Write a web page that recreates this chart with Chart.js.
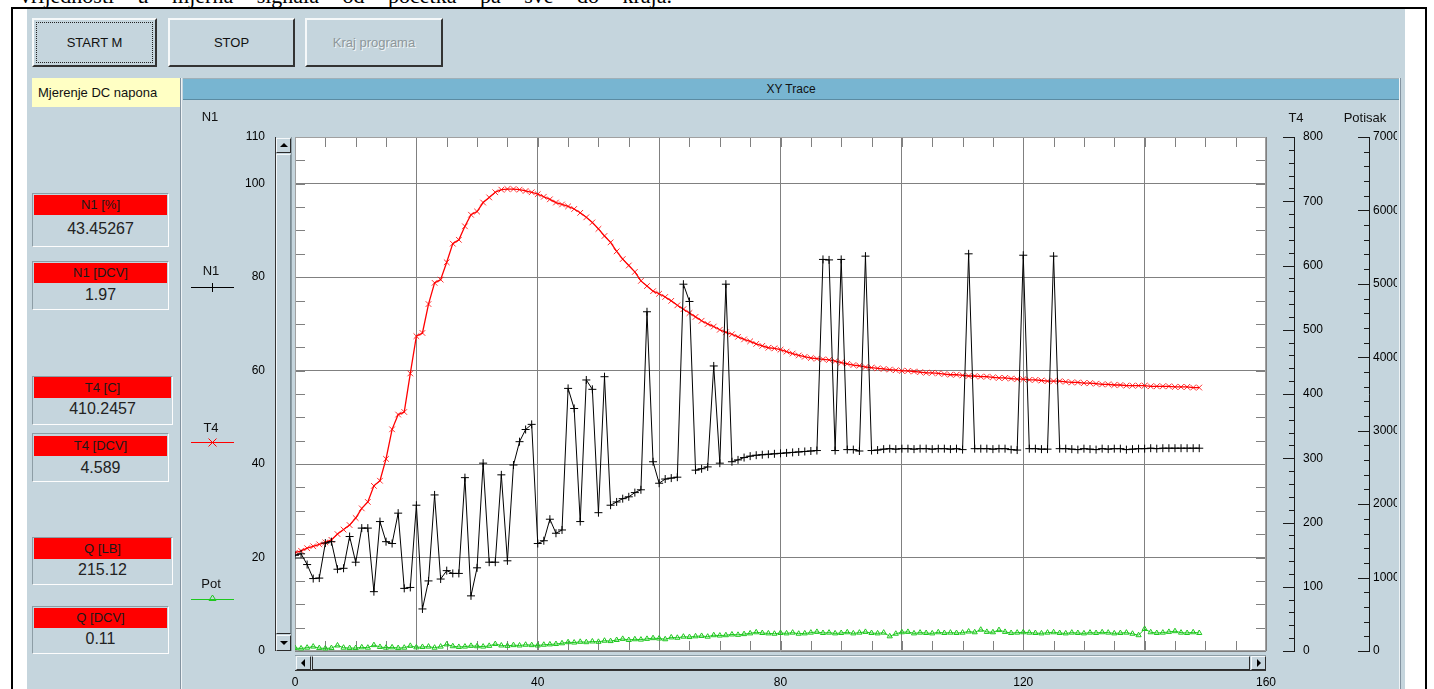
<!DOCTYPE html>
<html><head><meta charset="utf-8">
<script src="https://cdn.jsdelivr.net/npm/chart.js@4.4.0/dist/chart.umd.min.js"></script>
<style>
*{box-sizing:border-box}
html,body{margin:0;padding:0;background:#fff;width:1434px;height:689px;overflow:hidden;font-family:"Liberation Sans",Arial,sans-serif;color:#111}
.a{position:absolute}
#toptext{left:20px;top:-15px;font:22px "Liberation Serif","Times New Roman",serif;word-spacing:18px;white-space:nowrap;color:#000;line-height:22px}
#frame{left:11px;top:7px;width:1416px;height:700px;border:2px solid #000;border-bottom:none}
#panel{left:27px;top:9px;width:1378px;height:690px;background:#C5D5DD}
.btn{top:18px;height:49px;background:#C5D5DD;border:2px solid;border-color:#F6F9FA #333 #333 #F6F9FA;font-size:13px;display:flex;align-items:center;justify-content:center;color:#111}
.focus{left:2px;top:2px;right:2px;bottom:2px;border:1px dotted #222}
#yellow{left:32px;top:78px;width:148px;height:29px;background:#FFFFC4;font-size:13px;line-height:29px;padding-left:6px}
#sep{left:180px;top:78px;width:2px;height:620px;border-left:1px solid #8393a0;border-right:1px solid #eef3f5}
#cpanel{left:1399px;top:78px;width:2px;height:620px;border-left:1px solid #eef3f5;border-right:1px solid #8393a0}
#hdr{left:183px;top:78px;width:1216px;height:22px;background:#78B5D1;border-top:1px solid #9fb0b8;border-bottom:1px solid #5b8ba2;font-size:12px;text-align:center;line-height:20px}
.ind{left:32px;border:1px solid;border-color:#8d9da5 #fdfdfd #fdfdfd #8d9da5;background:#C5D5DD}
.ind .h{position:absolute;left:1px;right:1px;background:#FF0000;font-size:13px;text-align:center;color:#1a1a1a}
.ind .v{position:absolute;left:0;right:0;font-size:16px;text-align:center;line-height:20px;color:#222}
.lbl{font-size:13px;transform:translate(-50%,-50%);white-space:nowrap}
#chartwrap{left:182px;top:100px;width:1226px;height:589px}
.sb{background:#C5D5DD;border:1px solid;border-color:#f4f8fa #2b2b2b #2b2b2b #f4f8fa}
.tri{width:0;height:0;position:absolute}
</style>
</head>
<body>
<div id="toptext" class="a">vrijednosti u mjerna signala od početka pa sve do kraja.</div>
<div id="frame" class="a"></div>
<div id="panel" class="a"></div>

<div class="a btn" style="left:32px;width:125px"><div class="a focus"></div>START M</div>
<div class="a btn" style="left:168px;width:127px">STOP</div>
<div class="a btn" style="left:305px;width:138px;color:#8e979b;text-shadow:1px 1px 0 #f2f6f8">Kraj programa</div>

<div id="yellow" class="a">Mjerenje DC napona</div>
<div id="sep" class="a"></div>
<div id="cpanel" class="a"></div>
<div id="hdr" class="a">XY Trace</div>

<div class="a ind" style="top:193px;width:137px;height:54px"><div class="h" style="top:1px;height:20px;line-height:20px">N1 [%]</div><div class="v" style="top:25px">43.45267</div></div>
<div class="a ind" style="top:261px;width:137px;height:49px"><div class="h" style="top:1px;height:20px;line-height:20px">N1 [DCV]</div><div class="v" style="top:23px">1.97</div></div>
<div class="a ind" style="top:376px;width:141px;height:49px"><div class="h" style="top:0px;height:21px;line-height:21px">T4 [C]</div><div class="v" style="top:22px">410.2457</div></div>
<div class="a ind" style="top:433px;width:137px;height:49px"><div class="h" style="top:2px;height:20px;line-height:20px">T4 [DCV]</div><div class="v" style="top:24px">4.589</div></div>
<div class="a ind" style="top:537px;width:141px;height:48px"><div class="h" style="top:0px;height:21px;line-height:21px">Q [LB]</div><div class="v" style="top:22px">215.12</div></div>
<div class="a ind" style="top:606px;width:137px;height:48px"><div class="h" style="top:1px;height:20px;line-height:20px">Q [DCV]</div><div class="v" style="top:22px">0.11</div></div>

<div id="chartwrap" class="a"><canvas id="c" width="1226" height="589"></canvas></div>

<div class="a lbl" style="left:210px;top:116px">N1</div>
<div class="a lbl" style="left:1296px;top:117px">T4</div>
<div class="a lbl" style="left:1365px;top:117px">Potisak</div>

<div class="a lbl" style="left:211px;top:270px">N1</div>
<svg class="a" style="left:190px;top:280px" width="46" height="14"><line x1="1" y1="7.5" x2="44" y2="7.5" stroke="#000" stroke-width="1"/><line x1="22.5" y1="3" x2="22.5" y2="12" stroke="#000" stroke-width="1"/></svg>
<div class="a lbl" style="left:211px;top:427px">T4</div>
<svg class="a" style="left:190px;top:435px" width="46" height="14"><line x1="1" y1="7.5" x2="44" y2="7.5" stroke="#f00" stroke-width="1"/><line x1="18.5" y1="3.5" x2="26.5" y2="11.5" stroke="#f00"/><line x1="26.5" y1="3.5" x2="18.5" y2="11.5" stroke="#f00"/></svg>
<div class="a lbl" style="left:211px;top:583px">Pot</div>
<svg class="a" style="left:190px;top:592px" width="46" height="14"><line x1="1" y1="7.5" x2="44" y2="7.5" stroke="#1ec81e" stroke-width="1"/><polygon points="22.5,3 26,8.5 19,8.5" fill="none" stroke="#1ec81e"/></svg>

<!-- vertical scrollbar -->
<div class="a" style="left:275px;top:137px;width:17px;height:514px;background:#C5D5DD;border-left:1px solid #333;border-right:1px solid #8d9da5"></div>
<div class="a sb" style="left:276px;top:138px;width:15px;height:15px"><div class="tri" style="left:3px;top:4px;border-left:4px solid transparent;border-right:4px solid transparent;border-bottom:4px solid #000"></div></div>
<div class="a sb" style="left:276px;top:154px;width:15px;height:480px;border-color:#f4f8fa #7a8a92 #2b2b2b #f4f8fa"></div>
<div class="a sb" style="left:276px;top:635px;width:15px;height:16px"><div class="tri" style="left:3px;top:5px;border-left:4px solid transparent;border-right:4px solid transparent;border-top:4px solid #000"></div></div>

<!-- horizontal scrollbar -->
<div class="a" style="left:295px;top:655px;width:971px;height:16px;background:#C5D5DD;border-bottom:1px solid #333;border-top:1px solid #8d9da5"></div>
<div class="a sb" style="left:296px;top:656px;width:15px;height:14px"><div class="tri" style="left:4px;top:2px;border-top:4px solid transparent;border-bottom:4px solid transparent;border-right:4px solid #000"></div></div>
<div class="a sb" style="left:312px;top:656px;width:938px;height:14px;border-color:#f4f8fa #2b2b2b #2b2b2b #2b2b2b"></div>
<div class="a sb" style="left:1251px;top:656px;width:15px;height:14px"><div class="tri" style="left:5px;top:2px;border-top:4px solid transparent;border-bottom:4px solid transparent;border-left:4px solid #000"></div></div>

<script>
// ---- data ----
const X_VALUES = [0,1,2,3,4,5,6,7,8,9,10,11,12,13,14,15,16,17,18,19,20,21,22,23,24,25,26,27,28,29,30,31,32,33,34,35,36,37,38,39,40,41,42,43,44,45,46,47,48,49,50,51,52,53,54,55,56,57,58,59,60,61,62,63,64,65,66,67,68,69,70,71,72,73,74,75,76,77,78,79,80,81,82,83,84,85,86,87,88,89,90,91,92,93,94,95,96,97,98,99,100,101,102,103,104,105,106,107,108,109,110,111,112,113,114,115,116,117,118,119,120,121,122,123,124,125,126,127,128,129,130,131,132,133,134,135,136,137,138,139,140,141,142,143,144,145,146,147,148,149];

const N1_VALUES = [20.5,20.8,18.5,15.5,15.6,23.1,23.4,17.5,17.7,24.5,
19.0,26.3,26.3,12.7,27.7,23.4,23.0,29.5,13.4,13.6,
31.2,9.0,15.0,33.4,15.4,17.2,16.6,16.6,37.1,11.8,
17.8,40.2,19.0,19.0,37.7,19.3,39.8,44.8,47.4,48.5,
23.0,23.6,28.2,25.2,25.9,56.2,51.9,27.7,58.0,56.0,
29.6,58.7,31.2,31.9,32.6,33.0,33.9,34.5,72.6,40.5,
35.9,36.8,37.0,37.2,78.5,74.8,38.7,39.0,39.4,61.0,
40.2,78.5,40.5,40.9,41.4,41.7,41.9,42.0,42.1,42.2,
42.3,42.4,42.5,42.6,42.7,42.8,42.9,83.8,83.7,42.9,
83.8,43.1,43.1,42.8,84.5,42.9,43.0,43.2,43.3,43.2,
43.3,43.3,43.2,43.3,43.3,43.2,43.3,43.3,43.2,43.3,
43.1,85.0,43.3,43.3,43.3,43.2,43.3,43.3,43.1,43.0,
84.7,43.3,43.3,43.2,43.2,84.5,43.3,43.3,43.2,43.1,
43.3,43.2,43.1,43.3,43.2,43.3,43.3,43.1,43.2,43.3,
43.3,43.4,43.3,43.4,43.4,43.4,43.4,43.4,43.4,43.4];

const T4_VALUES = [153,156,160,163,166,169,173,182,189,196,
207,222,232,257,265,299,345,368,372,432,
490,495,540,573,578,605,634,640,661,679,
684,698,706,714,718,719,719,718,716,714,
711,707,703,698,695,692,688,682,675,667,
657,646,636,622,610,600,590,576,568,560,
556,551,545,538,532,526,520,514,509,505,
500,496,493,489,485,482,478,475,472,471,
469,466,463,460,458,456,455,454,453,451,
449,447,445,444,442,441,440,439,438,437,
436,436,435,434,433,433,432,431,430,430,
429,428,428,427,427,426,425,425,424,423,
423,422,422,421,420,420,420,419,418,418,
417,417,416,415,415,414,414,413,413,413,
413,412,412,412,412,411,411,411,410,410];

const POT_VALUES = [40,35,45,60,40,35,40,75,45,40,
40,50,45,80,55,45,50,40,45,70,
50,55,60,45,60,90,65,55,60,70,
65,60,70,95,75,70,80,75,85,80,
75,85,90,95,105,120,115,125,120,130,
125,140,135,150,165,150,160,155,165,175,
170,160,185,180,195,190,200,205,195,215,
210,215,225,220,230,240,255,245,240,235,
245,240,250,235,240,250,260,245,250,240,
245,255,240,250,260,245,240,250,200,235,
255,260,240,250,245,240,255,245,250,245,
250,265,255,290,260,255,285,260,245,250,
255,250,245,240,250,255,245,240,250,245,
240,250,245,255,250,240,245,250,235,215,
300,255,245,250,260,270,250,245,255,245];

// ---- axes ----
const X_MIN = 0, X_MAX = 160, X_GRID_STEP = 20, X_MINOR_STEP = 5;
const X_TICK_LABELS = [0, 40, 80, 120, 160];
const N1_MIN = 0, N1_MAX = 110, N1_MINOR_STEP = 5;
const N1_TICKS = [0, 20, 40, 60, 80, 100, 110];
const T4_MAX = 800, T4_MINOR_STEP = 20, T4_MAJOR_STEP = 100;
const T4_TICKS = [0, 100, 200, 300, 400, 500, 600, 700, 800];
const POT_MAX = 7000, POT_MINOR_STEP = 200, POT_MAJOR_STEP = 1000;
const POT_TICKS = [0, 1000, 2000, 3000, 4000, 5000, 6000, 7000];

const FONT = {family: '"Liberation Sans", Arial, sans-serif', size: 12};
const GRID = '#808080';
const NONE = 'rgba(0,0,0,0)';

const pts = ys => X_VALUES.map((x, i) => ({x: x, y: ys[i]}));

const deco = {
  id: 'deco',
  beforeDraw(chart) {
    const {ctx, chartArea: a} = chart;
    ctx.save();
    ctx.fillStyle = '#fff';
    ctx.fillRect(a.left, a.top, a.right - a.left, a.bottom - a.top);
    ctx.restore();
  },
  beforeDatasetsDraw(chart) {
    const {ctx, chartArea: a, scales} = chart;
    ctx.save();
    ctx.strokeStyle = GRID; ctx.lineWidth = 1;
    ctx.beginPath();
    for (let v = X_MIN; v <= X_MAX; v += X_MINOR_STEP) {
      const p = Math.round(scales.x.getPixelForValue(v)) + 0.5;
      ctx.moveTo(p, a.top); ctx.lineTo(p, a.top + 10);
      ctx.moveTo(p, a.bottom); ctx.lineTo(p, a.bottom - 10);
    }
    for (let v = N1_MIN; v <= N1_MAX; v += N1_MINOR_STEP) {
      const p = Math.round(scales.y.getPixelForValue(v)) + 0.5;
      ctx.moveTo(a.left, p); ctx.lineTo(a.left + 10, p);
      ctx.moveTo(a.right, p); ctx.lineTo(a.right - 10, p);
    }
    ctx.stroke();
    ctx.strokeStyle = '#a0a0a0';
    ctx.strokeRect(a.left + 0.5, a.top + 0.5, a.right - a.left - 1, a.bottom - a.top - 1);
    ctx.restore();
  },
  afterDraw(chart) {
    const {ctx, chartArea: a, scales} = chart;
    const ruler = (scale, x, max, minor, major) => {
      ctx.beginPath();
      ctx.moveTo(x + 0.5, Math.round(scale.getPixelForValue(max)));
      ctx.lineTo(x + 0.5, Math.round(scale.getPixelForValue(0)) + 1);
      for (let v = 0; v <= max; v += minor) {
        const p = Math.round(scale.getPixelForValue(v)) + 0.5;
        const len = (v % major === 0) ? 12 : 6;
        ctx.moveTo(x + 1 - len, p); ctx.lineTo(x + 1, p);
      }
      ctx.stroke();
    };
    ctx.save();
    ctx.strokeStyle = '#1a1a1a'; ctx.lineWidth = 1;
    ruler(scales.yT4, Math.round(a.right) + 28, T4_MAX, T4_MINOR_STEP, T4_MAJOR_STEP);
    ruler(scales.yPot, Math.round(a.right) + 103, POT_MAX, POT_MINOR_STEP, POT_MAJOR_STEP);
    ctx.restore();
  }
};

new Chart(document.getElementById('c'), {
  type: 'line',
  data: {
    datasets: [
      {label: 'N1', data: pts(N1_VALUES), yAxisID: 'y', borderColor: '#000', backgroundColor: '#000',
       borderWidth: 1, pointStyle: 'cross', pointRadius: 4, pointBorderWidth: 1, pointBorderColor: '#000', tension: 0},
      {label: 'T4', data: pts(T4_VALUES), yAxisID: 'yT4', borderColor: '#ff0000', backgroundColor: '#ff0000',
       borderWidth: 1.3, pointStyle: 'crossRot', pointRadius: 4, pointBorderWidth: 1, pointBorderColor: 'rgba(255,0,0,0.8)', tension: 0},
      {label: 'Pot', data: pts(POT_VALUES), yAxisID: 'yPot', borderColor: '#1ec81e', backgroundColor: NONE,
       borderWidth: 1, pointStyle: 'triangle', pointRadius: 3, pointBorderWidth: 1, pointBorderColor: '#1ec81e', pointBackgroundColor: NONE, tension: 0}
    ]
  },
  plugins: [deco],
  options: {
    responsive: false, animation: false, devicePixelRatio: 1,
    layout: {padding: {top: 37, right: 11, left: 0, bottom: 0}},
    plugins: {legend: {display: false}, tooltip: {enabled: false}},
    elements: {line: {tension: 0}},
    scales: {
      x: {
        type: 'linear', position: 'bottom', min: X_MIN, max: X_MAX,
        ticks: {stepSize: X_GRID_STEP, padding: 0, color: '#000', font: FONT, maxRotation: 0, autoSkip: false,
                callback: v => X_TICK_LABELS.includes(v) ? String(v) : ''},
        grid: {color: GRID, drawTicks: true, tickLength: 24, tickColor: NONE, lineWidth: 1},
        border: {display: false},
        afterFit: s => { s.height = 38; }
      },
      y: {
        type: 'linear', position: 'left', min: N1_MIN, max: N1_MAX,
        afterBuildTicks: s => { s.ticks = N1_TICKS.map(v => ({value: v})); },
        ticks: {padding: 0, color: '#000', font: FONT, autoSkip: false, callback: v => String(v)},
        grid: {color: GRID, drawTicks: true, tickLength: 30, tickColor: NONE, lineWidth: 1},
        border: {display: false},
        afterFit: s => { s.width = 113; }
      },
      yT4: {
        type: 'linear', position: 'right', min: 0, max: T4_MAX,
        afterBuildTicks: s => { s.ticks = T4_TICKS.map(v => ({value: v})); },
        ticks: {padding: 0, color: '#000', font: FONT, autoSkip: false, callback: v => String(v)},
        grid: {display: false, drawOnChartArea: false, drawTicks: true, tickLength: 37, tickColor: NONE},
        border: {display: false},
        afterFit: s => { s.width = 71; }
      },
      yPot: {
        type: 'linear', position: 'right', min: 0, max: POT_MAX,
        afterBuildTicks: s => { s.ticks = POT_TICKS.map(v => ({value: v})); },
        ticks: {padding: 0, color: '#000', font: FONT, autoSkip: false, callback: v => String(v)},
        grid: {display: false, drawOnChartArea: false, drawTicks: true, tickLength: 36, tickColor: NONE},
        border: {display: false},
        afterFit: s => { s.width = 60; }
      }
    }
  }
});
</script>
</body></html>
